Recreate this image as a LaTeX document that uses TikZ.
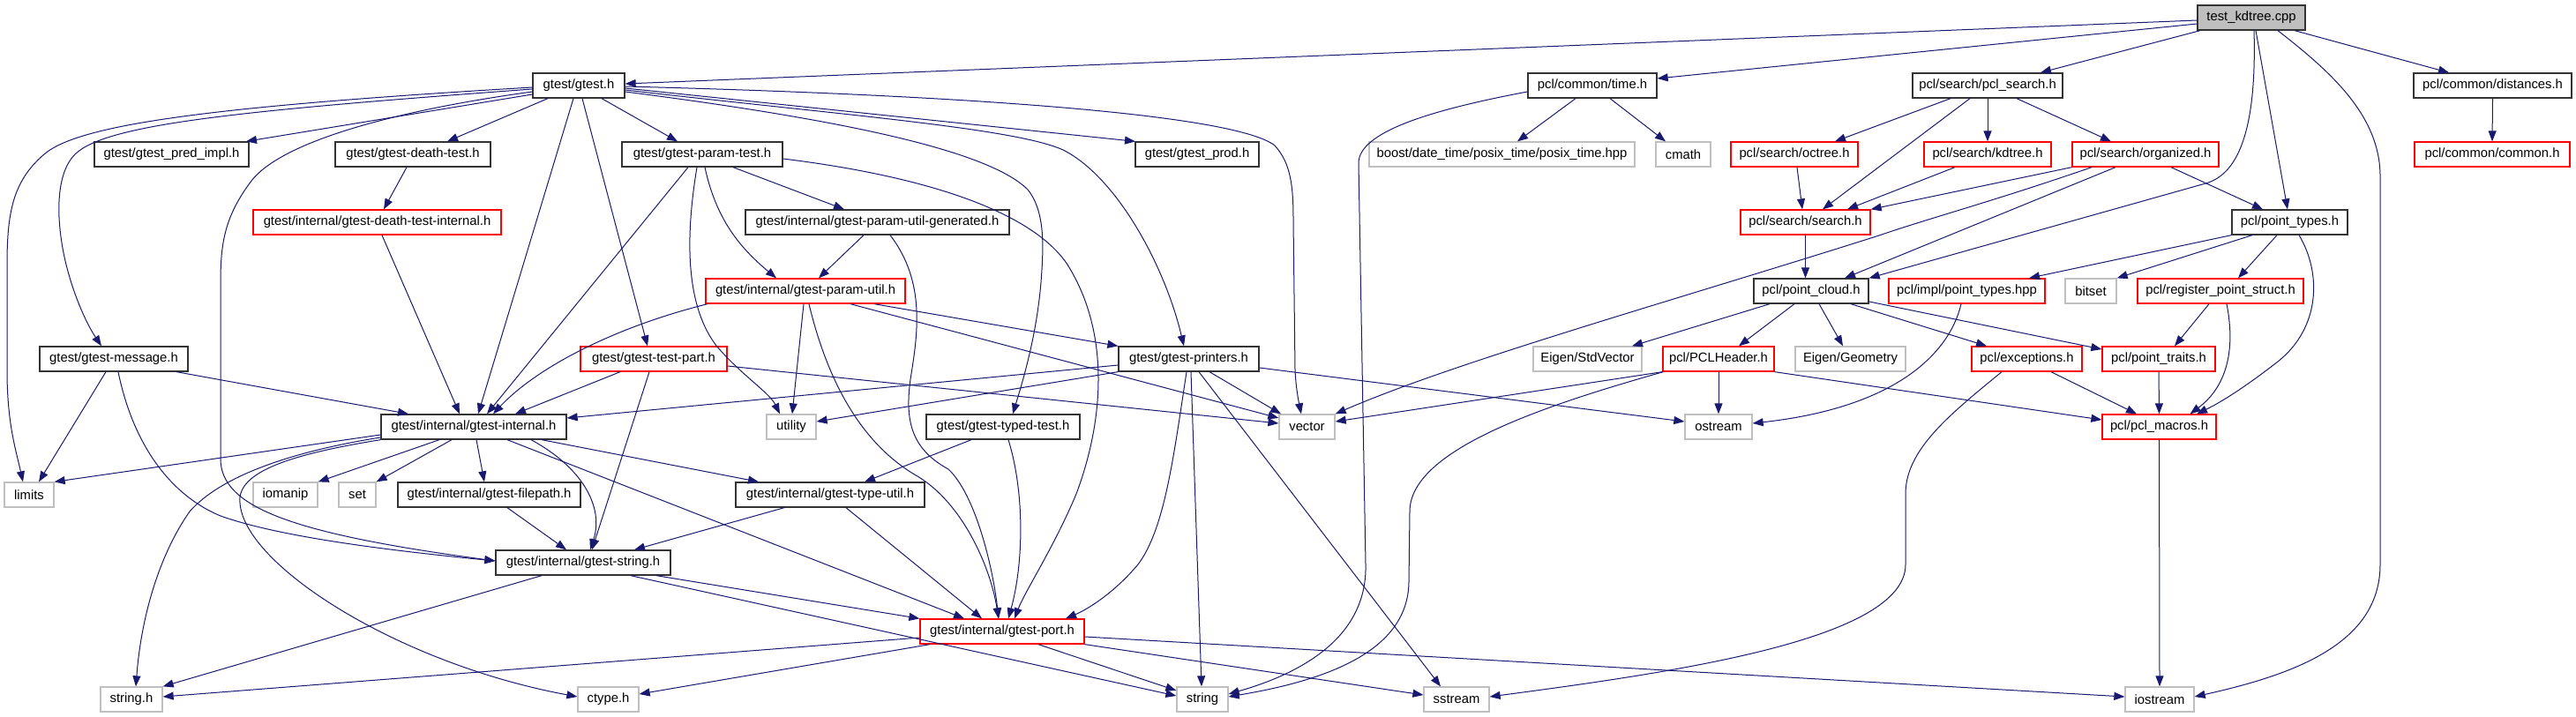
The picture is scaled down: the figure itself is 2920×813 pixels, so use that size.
\documentclass[tikz,border=0pt]{standalone}
\usepackage{fontspec}
\setmainfont{Liberation Sans}
\usetikzlibrary{arrows.meta}
\definecolor{eblue}{HTML}{191970}
\definecolor{bblack}{HTML}{333333}
\definecolor{bgray}{HTML}{BFBFBF}
\definecolor{bred}{HTML}{FF0000}
\begin{document}
\begin{tikzpicture}[x=1pt,y=-1pt,
 base/.style={rectangle, inner sep=0pt, minimum height=28pt, font=\fontsize{14.8}{17}\selectfont, fill=white, line width=1.3pt},
 nb/.style={base, draw=bblack},
 nr/.style={base, draw=bred},
 ng/.style={base, draw=bgray},
 nroot/.style={base, draw=bblack, fill=bgray},
 lnk/.style={draw=eblue, line width=1pt, -{Triangle[length=12pt,width=9pt]}}]
\fill[white] (0,0) rectangle (2920,813);
\useasboundingbox (0,0) rectangle (2920,813);
% nodes
\node[nroot, minimum width=122pt] (K) at (2552,20) {test\_kdtree.cpp};
\node[nb, minimum width=104pt] (G) at (656,97) {gtest/gtest.h};
\node[nb, minimum width=146pt] (time) at (1805,97) {pcl/common/time.h};
\node[nb, minimum width=170pt] (pcls) at (2253,97) {pcl/search/pcl\_search.h};
\node[nb, minimum width=179pt] (dist) at (2825.5,97) {pcl/common/distances.h};
\node[nb, minimum width=175pt] (pred) at (194.5,175) {gtest/gtest\_pred\_impl.h};
\node[nb, minimum width=176pt] (death) at (468,175) {gtest/gtest-death-test.h};
\node[nb, minimum width=182pt] (ptest) at (796,175) {gtest/gtest-param-test.h};
\node[nb, minimum width=140pt] (prod) at (1357,175) {gtest/gtest\_prod.h};
\node[ng, minimum width=301pt] (boost) at (1702.5,175) {boost/date\_time/posix\_time/posix\_time.hpp};
\node[ng, minimum width=62pt] (cmath) at (1908,175) {cmath};
\node[nr, minimum width=144pt] (octree) at (2034,175) {pcl/search/octree.h};
\node[nr, minimum width=144pt] (kdtree) at (2253,175) {pcl/search/kdtree.h};
\node[nr, minimum width=166pt] (org) at (2432,175) {pcl/search/organized.h};
\node[nr, minimum width=176pt] (common) at (2825,175) {pcl/common/common.h};
\node[nr, minimum width=281pt] (dti) at (427.5,252) {gtest/internal/gtest-death-test-internal.h};
\node[nb, minimum width=299pt] (pug) at (994.5,252) {gtest/internal/gtest-param-util-generated.h};
\node[nr, minimum width=147pt] (search) at (2046.5,252) {pcl/search/search.h};
\node[nb, minimum width=131pt] (ptypes) at (2595.5,252) {pcl/point\_types.h};
\node[nr, minimum width=226pt] (pu) at (913,330) {gtest/internal/gtest-param-util.h};
\node[nb, minimum width=130pt] (cloud) at (2053,330) {pcl/point\_cloud.h};
\node[nr, minimum width=177pt] (impl) at (2229.5,330) {pcl/impl/point\_types.hpp};
\node[ng, minimum width=58pt] (bitset) at (2370,330) {bitset};
\node[nr, minimum width=188pt] (reg) at (2517,330) {pcl/register\_point\_struct.h};
\node[nb, minimum width=168pt] (msg) at (129,407) {gtest/gtest-message.h};
\node[nr, minimum width=166pt] (tpart) at (741,407) {gtest/gtest-test-part.h};
\node[nb, minimum width=159pt] (printers) at (1347.5,407) {gtest/gtest-printers.h};
\node[ng, minimum width=123pt] (stdvec) at (1799.5,407) {Eigen/StdVector};
\node[nr, minimum width=126pt] (header) at (1948,407) {pcl/PCLHeader.h};
\node[ng, minimum width=125pt] (geom) at (2097.5,407) {Eigen/Geometry};
\node[nr, minimum width=125pt] (exc) at (2297.5,407) {pcl/exceptions.h};
\node[nr, minimum width=128pt] (traits) at (2447,407) {pcl/point\_traits.h};
\node[nb, minimum width=210pt] (internal) at (537,484) {gtest/internal/gtest-internal.h};
\node[ng, minimum width=56pt] (utility) at (897,484) {utility};
\node[nb, minimum width=174pt] (typed) at (1137,484) {gtest/gtest-typed-test.h};
\node[ng, minimum width=63pt] (vector) at (1481.5,484) {vector};
\node[ng, minimum width=76pt] (ostream) at (1948,484) {ostream};
\node[nr, minimum width=129pt] (macros) at (2447.5,484) {pcl/pcl\_macros.h};
\node[ng, minimum width=56pt] (limits) at (33,561) {limits};
\node[ng, minimum width=73pt] (iomanip) at (323.5,561) {iomanip};
\node[ng, minimum width=42pt] (set) at (405,561) {set};
\node[nb, minimum width=207pt] (filepath) at (554.5,561) {gtest/internal/gtest-filepath.h};
\node[nb, minimum width=214pt] (typeutil) at (941,561) {gtest/internal/gtest-type-util.h};
\node[nb, minimum width=198pt] (gstring) at (661,638) {gtest/internal/gtest-string.h};
\node[nr, minimum width=186pt] (port) at (1136,716) {gtest/internal/gtest-port.h};
\node[ng, minimum width=70pt] (stringh) at (149,793) {string.h};
\node[ng, minimum width=69pt] (ctype) at (689.5,793) {ctype.h};
\node[ng, minimum width=58pt] (string) at (1363,793) {string};
\node[ng, minimum width=74pt] (sstream) at (1651,793) {sstream};
\node[ng, minimum width=78pt] (iostream) at (2448,793) {iostream};
% edges from test_kdtree.cpp
\draw[lnk] ([yshift=-3pt]K.west) -- ([yshift=2pt]G.east);
\draw[lnk] ([yshift=-7pt]K.west) -- ([yshift=8pt]time.east);
\draw[lnk] ([xshift=-58pt]K.south) -- ([xshift=60pt]pcls.north);
\draw[lnk] ([xshift=3pt]K.south) .. controls (2558,140) and (2540,197) .. (2500,208) -- (cloud.north east);
\draw[lnk] ([xshift=5pt]K.south) -- ([xshift=-2.5pt]ptypes.north);
\draw[lnk] ([xshift=30pt]K.south) .. controls (2640,80) and (2698,130) .. (2698,200) -- (2698,640) .. controls (2698,730) and (2600,765) .. ([yshift=3pt]iostream.east);
\draw[lnk] ([xshift=49pt]K.south) -- ([xshift=-49.5pt]dist.north);
% gtest.h
\draw[lnk] ([yshift=-2pt]G.west) .. controls (250,120) and (90,140) .. (50,175) .. controls (15,205) and (8,240) .. (8,300) -- (8,420) .. controls (8,480) and (18,510) .. ([xshift=-7pt]limits.north);
\draw[lnk] ([yshift=-4pt]G.west) .. controls (280,125) and (120,140) .. (85,175) .. controls (60,200) and (65,260) .. (75,300) .. controls (85,340) and (100,370) .. ([xshift=-14pt]msg.north);
\draw[lnk] ([yshift=-10pt]G.west) -- ([xshift=84.5pt]pred.north);
\draw[lnk] ([xshift=-35pt]G.south) -- ([xshift=39pt]death.north);
\draw[lnk] ([yshift=-7pt]G.west) .. controls (450,125) and (320,160) .. (285,205) .. controls (255,245) and (250,275) .. (250,320) -- (250,520) .. controls (250,575) and (330,605) .. ([yshift=2pt]gstring.west);
\draw[lnk] ([xshift=-6pt]G.south) -- ([xshift=5pt]internal.north);
\draw[lnk] ([xshift=4pt]G.south) -- ([xshift=-7pt]tpart.north);
\draw[lnk] ([xshift=26pt]G.south) -- ([xshift=-28pt]ptest.north);
\draw[lnk] ([yshift=-7pt]G.east) .. controls (950,135) and (1120,170) .. (1165,215) .. controls (1185,240) and (1183,280) .. (1180,320) .. controls (1175,380) and (1160,430) .. ([xshift=11pt]typed.north);
\draw[lnk] ([yshift=-3pt]G.east) -- ([xshift=-70pt]prod.north);
\draw[lnk] ([yshift=-5pt]G.east) .. controls (950,130) and (1150,145) .. (1205,170) .. controls (1265,200) and (1320,300) .. ([xshift=-5.5pt]printers.north);
\draw[lnk] ([yshift=-1pt]G.east) .. controls (1100,108) and (1400,130) .. (1445,165) .. controls (1463,185) and (1466,210) .. (1466,250) -- (1468,420) .. controls (1469,440) and (1472,455) .. ([xshift=-6.5pt]vector.north);
% message, death
\draw[lnk] ([xshift=-9pt]msg.south) -- ([xshift=11pt]limits.north);
\draw[lnk] ([xshift=71pt]msg.south) -- ([xshift=-74pt]internal.north);
\draw[lnk] ([xshift=5pt]msg.south) .. controls (150,500) and (190,560) .. (250,585) .. controls (320,610) and (450,625) .. ([yshift=2pt]gstring.west);
\draw[lnk] ([xshift=-7pt]death.south) -- ([xshift=7.5pt]dti.north);
\draw[lnk] ([xshift=5.5pt]dti.south) -- ([xshift=-16pt]internal.north);
% param-test
\draw[lnk] ([xshift=-16pt]ptest.south) -- ([xshift=15pt]internal.north);
\draw[lnk] ([xshift=-6pt]ptest.south) .. controls (775,280) and (780,350) .. (812,392) .. controls (840,425) and (872,445) .. ([xshift=-13pt]utility.north);
\draw[lnk] ([xshift=35pt]ptest.south) -- ([xshift=-37.5pt]pug.north);
\draw[lnk] ([xshift=3pt]ptest.south) .. controls (812,250) and (840,282) .. ([xshift=-33pt]pu.north);
\draw[lnk] ([yshift=-5pt]ptest.east) .. controls (1050,200) and (1170,240) .. (1210,300) .. controls (1260,380) and (1250,480) .. (1220,560) .. controls (1195,620) and (1162,670) .. ([xshift=14pt]port.north);
% param-util-generated, param-util
\draw[lnk] ([xshift=-15.5pt]pug.south) -- ([xshift=15pt]pu.north);
\draw[lnk] ([xshift=14.5pt]pug.south) .. controls (1050,320) and (1040,380) .. (1032,430) .. controls (1025,480) and (1035,510) .. (1075,532) .. controls (1105,560) and (1125,640) .. ([xshift=-4pt]port.north);
\draw[lnk] ([xshift=-111pt]pu.south) .. controls (700,370) and (610,415) .. ([xshift=22pt]internal.north);
\draw[lnk] ([xshift=-2pt]pu.south) -- ([xshift=1pt]utility.north);
\draw[lnk] ([xshift=4pt]pu.south) .. controls (935,420) and (970,500) .. (1040,540) .. controls (1090,570) and (1122,640) .. ([xshift=-4pt]port.north);
\draw[lnk] ([xshift=51pt]pu.south) -- ([yshift=10pt]vector.west);
\draw[lnk] ([xshift=78pt]pu.south) -- (printers.north west);
% test-part
\draw[lnk] ([xshift=-38pt]tpart.south) -- ([xshift=47pt]internal.north);
\draw[lnk] ([xshift=-5pt]tpart.south) -- ([xshift=10pt]gstring.north);
\draw[lnk] ([yshift=-8pt]tpart.east) -- ([yshift=4pt]vector.west);
% printers
\draw[lnk] ([yshift=-7pt]printers.west) -- ([yshift=10pt]internal.east);
\draw[lnk] (printers.south west) -- ([yshift=6pt]utility.east);
\draw[lnk] ([xshift=23.5pt]printers.south) -- ([xshift=-29.5pt]vector.north);
\draw[lnk] ([yshift=-10pt]printers.east) -- ([yshift=6pt]ostream.west);
\draw[lnk] ([xshift=2.5pt]printers.south) -- ([xshift=-1pt]string.north);
\draw[lnk] ([xshift=11.5pt]printers.south) -- ([xshift=-18pt]sstream.north);
\draw[lnk] ([xshift=-2.5pt]printers.south) .. controls (1330,520) and (1320,600) .. (1290,640) .. controls (1265,670) and (1235,690) .. ([xshift=72pt]port.north);
% typed-test
\draw[lnk] ([xshift=-36pt]typed.south) -- ([xshift=39pt]typeutil.north);
\draw[lnk] ([xshift=6pt]typed.south) .. controls (1162,560) and (1160,640) .. ([xshift=7pt]port.north);
% internal
\draw[lnk] ([yshift=-9pt]internal.west) -- (limits.north east);
\draw[lnk] ([xshift=-39pt]internal.south) -- (iomanip.north east);
\draw[lnk] ([xshift=-25pt]internal.south) -- (set.north east);
\draw[lnk] ([xshift=3pt]internal.south) -- ([xshift=-5.5pt]filepath.north);
\draw[lnk] ([xshift=65pt]internal.south) .. controls (660,530) and (685,575) .. ([xshift=8pt]gstring.north);
\draw[lnk] ([xshift=77pt]internal.south) -- ([xshift=-81pt]typeutil.north);
\draw[lnk] ([xshift=38pt]internal.south) -- ([xshift=-43pt]port.north);
\draw[lnk] ([yshift=-12pt]internal.west) .. controls (330,512) and (250,540) .. (215,580) .. controls (180,630) and (160,700) .. ([xshift=5pt]stringh.north);
\draw[lnk] (internal.south west) .. controls (330,515) and (268,535) .. (272,570) .. controls (276,640) and (450,752) .. ([yshift=3pt]ctype.west);
% filepath, type-util, string
\draw[lnk] ([xshift=20.5pt]filepath.south) -- ([xshift=-19pt]gstring.north);
\draw[lnk] ([xshift=-52pt]typeutil.south) -- ([xshift=58pt]gstring.north);
\draw[lnk] ([xshift=18pt]typeutil.south) -- ([xshift=-23pt]port.north);
\draw[lnk] ([xshift=-47pt]gstring.south) -- (stringh.north east);
\draw[lnk] ([xshift=83pt]gstring.south) -- (port.north west);
\draw[lnk] ([xshift=54pt]gstring.south) -- ([yshift=4pt]string.west);
% port
\draw[lnk] ([yshift=-7pt]port.west) -- ([yshift=3pt]stringh.east);
\draw[lnk] ([xshift=-82pt]port.south) -- ([yshift=6pt]ctype.east);
\draw[lnk] ([xshift=41pt]port.south) -- ([yshift=10pt]string.west);
\draw[lnk] (port.south east) -- ([yshift=5pt]sstream.west);
\draw[lnk] ([yshift=-6pt]port.east) -- ([yshift=3pt]iostream.west);
% time
\draw[lnk] ([xshift=-19pt]time.south) -- ([xshift=17.5pt]boost.north);
\draw[lnk] ([xshift=20pt]time.south) -- ([xshift=-20pt]cmath.north);
\draw[lnk] ([yshift=-7pt]time.west) .. controls (1620,125) and (1540,150) .. (1540,185) -- (1548,640) .. controls (1550,720) and (1480,762) .. ([yshift=6pt]string.east);
% pcl search
\draw[lnk] ([xshift=-42pt]pcls.south) -- ([xshift=46pt]octree.north);
\draw[lnk] ([xshift=-20pt]pcls.south) -- ([xshift=19.5pt]search.north);
\draw[lnk] (pcls.south) -- (kdtree.north);
\draw[lnk] ([xshift=33pt]pcls.south) -- ([xshift=-39pt]org.north);
\draw[lnk] ([xshift=3pt]octree.south) -- ([xshift=-3.5pt]search.north);
\draw[lnk] ([xshift=-37pt]kdtree.south) -- ([xshift=47.5pt]search.north);
\draw[lnk] (org.south west) -- (search.north east);
\draw[lnk] ([xshift=-61pt]org.south) .. controls (2260,228) and (2185,248) .. (2130,267) .. controls (1900,340) and (1650,410) .. (vector.north east);
\draw[lnk] ([xshift=-34pt]org.south) -- ([xshift=38pt]cloud.north);
\draw[lnk] ([xshift=29pt]org.south) -- ([xshift=-30.5pt]ptypes.north);
\draw[lnk] (search.south) -- ([xshift=-6.5pt]cloud.north);
% point types
\draw[lnk] (ptypes.south west) -- ([xshift=70.5pt]impl.north);
\draw[lnk] ([xshift=-42.5pt]ptypes.south) -- (bitset.north east);
\draw[lnk] ([xshift=-14.5pt]ptypes.south) -- ([xshift=20pt]reg.north);
\draw[lnk] ([xshift=10.5pt]ptypes.south) .. controls (2632,310) and (2630,372) .. (2582,410) .. controls (2550,435) and (2520,455) .. ([xshift=42.5pt]macros.north);
\draw[lnk] ([xshift=-6.5pt]impl.south) .. controls (2210,400) and (2150,462) .. ([yshift=4pt]ostream.east);
\draw[lnk] ([xshift=-13pt]reg.south) -- ([xshift=18pt]traits.north);
\draw[lnk] ([xshift=7pt]reg.south) .. controls (2535,400) and (2522,440) .. ([xshift=35pt]macros.north);
% point cloud
\draw[lnk] ([xshift=-47pt]cloud.south) -- ([xshift=50.5pt]stdvec.north);
\draw[lnk] ([xshift=-19pt]cloud.south) -- ([xshift=23pt]header.north);
\draw[lnk] ([xshift=9pt]cloud.south) -- ([xshift=-8.5pt]geom.north);
\draw[lnk] ([xshift=45pt]cloud.south) -- ([xshift=-45.5pt]exc.north);
\draw[lnk] ([yshift=-12pt]cloud.east) -- ([yshift=11pt]traits.west);
% header, exceptions, traits, macros
\draw[lnk] (header.south west) -- ([yshift=6pt]vector.east);
\draw[lnk] (header.south) -- (ostream.north);
\draw[lnk] ([xshift=1pt]header.south west) .. controls (1750,460) and (1598,510) .. (1598,580) -- (1597,660) .. controls (1596,740) and (1500,772) .. ([yshift=3pt]string.east);
\draw[lnk] (header.south east) -- ([yshift=8pt]macros.west);
\draw[lnk] ([xshift=27.5pt]exc.south) -- ([xshift=-25.5pt]macros.north);
\draw[lnk] ([xshift=-28.5pt]exc.south) .. controls (2210,470) and (2160,510) .. (2160,560) -- (2160,640) .. controls (2160,725) and (1900,762) .. ([yshift=3pt]sstream.east);
\draw[lnk] (traits.south) -- (macros.north);
\draw[lnk] (macros.south) -- (iostream.north);
\draw[lnk] (dist.south) -- (common.north);
\end{tikzpicture}
\end{document}
